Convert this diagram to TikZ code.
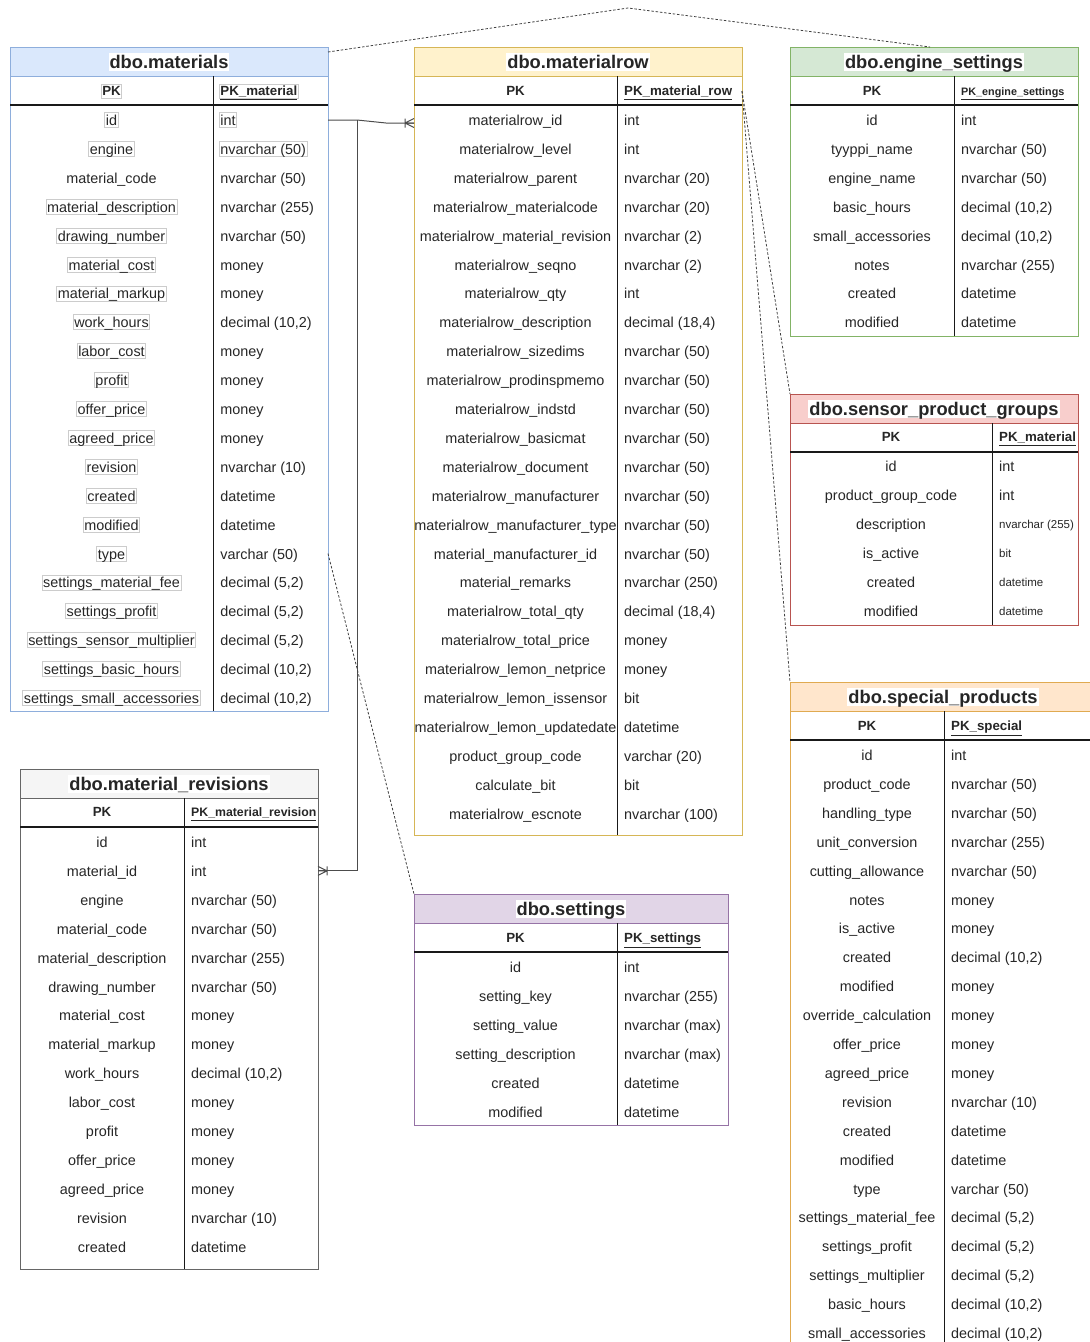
\documentclass[tikz,border=0pt]{standalone}
\usepackage{fontspec}
\setmainfont{Liberation Sans}
\definecolor{matfill}{HTML}{DAE8FC}\definecolor{matline}{HTML}{8EAEDC}
\definecolor{mrfill}{HTML}{FFF2CC}\definecolor{mrline}{HTML}{D6B656}
\definecolor{engfill}{HTML}{D5E8D4}\definecolor{engline}{HTML}{82B366}
\definecolor{senfill}{HTML}{F8CECC}\definecolor{senline}{HTML}{B85450}
\definecolor{spfill}{HTML}{FFE6CC}\definecolor{spline}{HTML}{E0AA50}
\definecolor{revfill}{HTML}{F5F5F5}\definecolor{revline}{HTML}{666666}
\definecolor{setfill}{HTML}{E1D5E7}\definecolor{setline}{HTML}{9673A6}

\begin{document}
\begin{tikzpicture}[x=1pt,y=-1pt,
    every node/.style={inner sep=1pt,text=black!85},
    cell/.style={font=\fontsize{14.4}{16}\selectfont,text height=12pt,text depth=1pt},
    typ/.style={cell,anchor=west},
    small/.style={font=\fontsize{11.5}{13}\selectfont,text height=10pt,text depth=0.2pt,anchor=west},
    title/.style={font=\fontsize{18.3}{21}\selectfont\bfseries,text height=15pt,text depth=1.8pt,fill=white},
    hd/.style={font=\fontsize{13.3}{15}\selectfont\bfseries,text height=11pt,text depth=1.2pt},
    pk/.style={hd,anchor=west},
    box/.style={draw=black!20,draw opacity=#1,line width=0.8pt},
    tbl/.style={draw=#1,line width=1pt,anchor=north west,outer sep=0pt,inner sep=0pt},
    hdline/.style={line width=1.3pt,black!90},
    div/.style={line width=1pt,black!90},
    rel/.style={dash pattern=on 2.5pt off 1.8pt,line width=0.8pt,black!75},
    link/.style={line width=1pt,black!70},
    crow/.pic={\draw[link] (-9,-4.5) -- (-9,4.5) (-9,0) -- (0,0) (-9,0) -- (0,-4.5) (-9,0) -- (0,4.5);}]
\path[use as bounding box] (0,0) rectangle (1090,1342);
\clip (0,0) rectangle (1090,1342);

% dbo.materials
\fill[matfill] (10,47) rectangle (328,76);
\node[tbl=matline,minimum width=318,minimum height=664] (mat) at (10,47) {};
\draw[matline,line width=1pt] (10,76) -- (328,76);
\draw[hdline] (10,105) -- (328,105);
\draw[div] (213,76) -- (213,711);
\node[title] (mat-t) at (169,62) {dbo.materials};
\node[hd,box=1] (mat-h) at (111.5,91) {PK};
\node[pk,box=1] at (219,91) {\underline{PK\_material}};
\foreach \a/\b/\p/\q [count=\i] in {id/int/1/1, engine/{nvarchar (50)}/1/1,
    material\_code/{nvarchar (50)}/0/0, material\_description/{nvarchar (255)}/1/0,
    drawing\_number/{nvarchar (50)}/1/0, material\_cost/money/1/0, material\_markup/money/1/0,
    work\_hours/{decimal (10,2)}/1/0, labor\_cost/money/1/0, profit/money/1/0,
    offer\_price/money/1/0, agreed\_price/money/1/0, revision/{nvarchar (10)}/1/0,
    created/datetime/1/0, modified/datetime/1/0, type/{varchar (50)}/1/0,
    settings\_material\_fee/{decimal (5,2)}/1/0, settings\_profit/{decimal (5,2)}/1/0,
    settings\_sensor\_multiplier/{decimal (5,2)}/1/0, settings\_basic\_hours/{decimal (10,2)}/1/0,
    settings\_small\_accessories/{decimal (10,2)}/1/0}
  {\node[cell,box=\p] (mat-r\i) at (111.5,{120+28.9*(\i-1)}) {\a};
   \node[typ,box=\q] at (219,{120+28.9*(\i-1)}) {\b};}

% dbo.materialrow
\fill[mrfill] (414,47) rectangle (742,76);
\node[tbl=mrline,minimum width=328,minimum height=788] (mr) at (414,47) {};
\draw[mrline,line width=1pt] (414,76) -- (742,76);
\draw[hdline] (414,105) -- (742,105);
\draw[div] (617,76) -- (617,835);
\node[title] (mr-t) at (578,62) {dbo.materialrow};
\node[hd] (mr-h) at (515.5,91) {PK};
\node[pk] at (623,91) {\underline{PK\_material\_row}};
\foreach \a/\b [count=\i] in {materialrow\_id/int, materialrow\_level/int,
    materialrow\_parent/{nvarchar (20)}, materialrow\_materialcode/{nvarchar (20)},
    materialrow\_material\_revision/{nvarchar (2)}, materialrow\_seqno/{nvarchar (2)},
    materialrow\_qty/int, materialrow\_description/{decimal (18,4)},
    materialrow\_sizedims/{nvarchar (50)}, materialrow\_prodinspmemo/{nvarchar (50)},
    materialrow\_indstd/{nvarchar (50)}, materialrow\_basicmat/{nvarchar (50)},
    materialrow\_document/{nvarchar (50)}, materialrow\_manufacturer/{nvarchar (50)},
    materialrow\_manufacturer\_type/{nvarchar (50)}, material\_manufacturer\_id/{nvarchar (50)},
    material\_remarks/{nvarchar (250)}, materialrow\_total\_qty/{decimal (18,4)},
    materialrow\_total\_price/money, materialrow\_lemon\_netprice/money,
    materialrow\_lemon\_issensor/bit, materialrow\_lemon\_updatedate/datetime,
    product\_group\_code/{varchar (20)}, calculate\_bit/bit, materialrow\_escnote/{nvarchar (100)}}
  {\node[cell] (mr-r\i) at (515.5,{120+28.9*(\i-1)}) {\a};
   \node[typ] at (623,{120+28.9*(\i-1)}) {\b};}

% dbo.engine_settings
\fill[engfill] (790,47) rectangle (1078,76);
\node[tbl=engline,minimum width=288,minimum height=289] (eng) at (790,47) {};
\draw[engline,line width=1pt] (790,76) -- (1078,76);
\draw[hdline] (790,105) -- (1078,105);
\draw[div] (954,76) -- (954,336);
\node[title] (eng-t) at (934,62) {dbo.engine\_settings};
\node[hd] (eng-h) at (872,91) {PK};
\node[pk,font=\fontsize{10.8}{13}\selectfont\bfseries] at (960,91) {\underline{PK\_engine\_settings}};
\foreach \a/\b [count=\i] in {id/int, tyyppi\_name/{nvarchar (50)}, engine\_name/{nvarchar (50)},
    basic\_hours/{decimal (10,2)}, small\_accessories/{decimal (10,2)}, notes/{nvarchar (255)},
    created/datetime, modified/datetime}
  {\node[cell] (eng-r\i) at (872,{120+28.9*(\i-1)}) {\a};
   \node[typ] at (960,{120+28.9*(\i-1)}) {\b};}

% dbo.sensor_product_groups
\fill[senfill] (790,394) rectangle (1078,423);
\node[tbl=senline,minimum width=288,minimum height=231] (sen) at (790,394) {};
\draw[senline,line width=1pt] (790,423) -- (1078,423);
\draw[hdline] (790,452) -- (1078,452);
\draw[div] (992,423) -- (992,625);
\node[title] (sen-t) at (934,409) {dbo.sensor\_product\_groups};
\node[hd] (sen-h) at (891,437) {PK};
\node[pk] at (998,437) {\underline{PK\_material}};
\foreach \a [count=\i] in {id, product\_group\_code, description, is\_active, created, modified}
  {\node[cell] (sen-r\i) at (891,{466+28.9*(\i-1)}) {\a};}
\node[typ] at (998,466) {int};
\node[typ] at (998,495) {int};
\node[small] at (998,524) {nvarchar (255)};
\node[small] at (998,553) {bit};
\node[small] at (998,582) {datetime};
\node[small] at (998,611) {datetime};

% dbo.special_products
\fill[spfill] (790,682) rectangle (1096,711);
\node[tbl=spline,minimum width=306,minimum height=700] (spc) at (790,682) {};
\draw[spline,line width=1pt] (790,711) -- (1096,711);
\draw[hdline] (790,740) -- (1096,740);
\draw[div] (944,711) -- (944,1382);
\node[title] (spc-t) at (943,697) {dbo.special\_products};
\node[hd] (spc-h) at (867,726) {PK};
\node[pk] at (950,726) {\underline{PK\_special}};
\foreach \a/\b [count=\i] in {id/int, product\_code/{nvarchar (50)}, handling\_type/{nvarchar (50)},
    unit\_conversion/{nvarchar (255)}, cutting\_allowance/{nvarchar (50)}, notes/money,
    is\_active/money, created/{decimal (10,2)}, modified/money, override\_calculation/money,
    offer\_price/money, agreed\_price/money, revision/{nvarchar (10)}, created/datetime,
    modified/datetime, type/{varchar (50)}, settings\_material\_fee/{decimal (5,2)},
    settings\_profit/{decimal (5,2)}, settings\_multiplier/{decimal (5,2)},
    basic\_hours/{decimal (10,2)}, small\_accessories/{decimal (10,2)}}
  {\node[cell] (spc-r\i) at (867,{755+28.9*(\i-1)}) {\a};
   \node[typ] at (950,{755+28.9*(\i-1)}) {\b};}

% dbo.material_revisions
\fill[revfill] (20,769) rectangle (318,798);
\node[tbl=revline,minimum width=298,minimum height=500] (rev) at (20,769) {};
\draw[revline,line width=1pt] (20,798) -- (318,798);
\draw[hdline] (20,827) -- (318,827);
\draw[div] (184,798) -- (184,1269);
\node[title] (rev-t) at (169,784) {dbo.material\_revisions};
\node[hd] (rev-h) at (102,812) {PK};
\node[pk,font=\fontsize{12.3}{14}\selectfont\bfseries] at (190,812) {\underline{PK\_material\_revision}};
\foreach \a/\b [count=\i] in {id/int, material\_id/int, engine/{nvarchar (50)},
    material\_code/{nvarchar (50)}, material\_description/{nvarchar (255)},
    drawing\_number/{nvarchar (50)}, material\_cost/money, material\_markup/money,
    work\_hours/{decimal (10,2)}, labor\_cost/money, profit/money, offer\_price/money,
    agreed\_price/money, revision/{nvarchar (10)}, created/datetime}
  {\node[cell] (rev-r\i) at (102,{842+28.9*(\i-1)}) {\a};
   \node[typ] at (190,{842+28.9*(\i-1)}) {\b};}

% dbo.settings
\fill[setfill] (414,894) rectangle (728,923);
\node[tbl=setline,minimum width=314,minimum height=231] (set) at (414,894) {};
\draw[setline,line width=1pt] (414,923) -- (728,923);
\draw[hdline] (414,952) -- (728,952);
\draw[div] (617,923) -- (617,1125);
\node[title] (set-t) at (571,909) {dbo.settings};
\node[hd] (set-h) at (515.5,938) {PK};
\node[pk] at (623,938) {\underline{PK\_settings}};
\foreach \a/\b [count=\i] in {id/int, setting\_key/{nvarchar (255)}, setting\_value/{nvarchar (max)},
    setting\_description/{nvarchar (max)}, created/datetime, modified/datetime}
  {\node[cell] (set-r\i) at (515.5,{967+28.9*(\i-1)}) {\a};
   \node[typ] at (623,{967+28.9*(\i-1)}) {\b};}

% relations
\coordinate (j1) at (357,120);
\coordinate (j2) at (386,123);
\draw[link] (mat.east |- mat-r1) -- (j1) -- (j2) -- (mr.west |- j2);
\pic at (mr.west |- j2) {crow};
\draw[link] (j1) -- (j1 |- rev-r2) -- (rev.east |- rev-r2);
\pic[rotate=180] at (rev.east |- rev-r2) {crow};

\coordinate (apex) at (628,8);
\draw[rel] ([yshift=-5pt]mat.north east) -- (apex) -- ([xshift=-4pt]eng.north);
\draw[rel] (mr.east |- mr-h) -- (sen.north west);
\draw[rel] (mr.east |- mr-h) -- (spc.north west);
\draw[rel] (mat.east |- mat-r16) -- (set.north west);
\end{tikzpicture}
\end{document}
